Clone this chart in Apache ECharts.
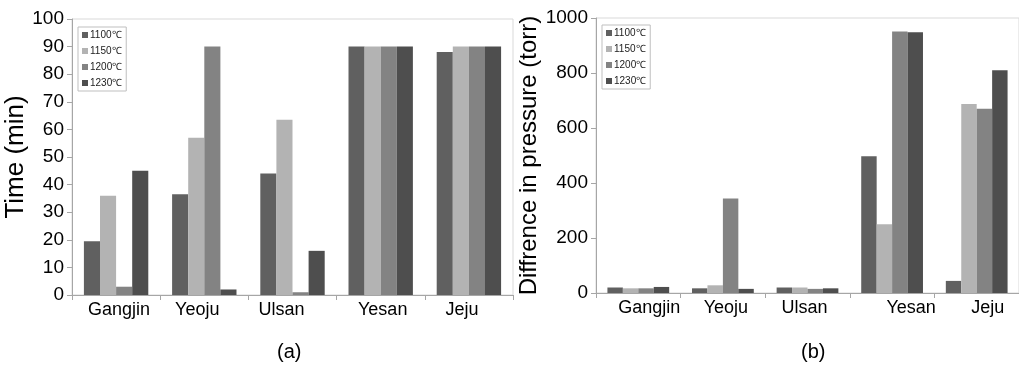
<!DOCTYPE html>
<html><head><meta charset="utf-8">
<script src="https://cdn.jsdelivr.net/npm/echarts@6/dist/echarts.min.js"></script>
<style>html,body{margin:0;padding:0;background:#fff}#c{width:1019px;height:365px}</style>
</head><body><div id="c"></div>
<script>
const categories = ['Gangjin', 'Yeoju', 'Ulsan', 'Yesan', 'Jeju'];
const seriesNames = ['1100℃', '1150℃', '1200℃', '1230℃'];
// (a) Time (min)
const timeData = [
  [19.5, 36.5, 44, 90, 88],   // 1100
  [36, 57, 63.5, 90, 90],     // 1150
  [3, 90, 1, 90, 90],         // 1200
  [45, 2, 16, 90, 90]         // 1230
];
// (b) Diffrence in pressure (torr)
const pressureData = [
  [20, 17, 20, 497, 44],
  [17, 28, 20, 250, 687],
  [17, 344, 15, 951, 670],
  [22, 15, 17, 948, 810]
];
const timeTicks = {min: 0, max: 100, interval: 10};
const pressureTicks = {min: 0, max: 1000, interval: 200};

// label placement tweaks (px shift of each category label, as in the source figure)
const labelShiftA = [3, -7, -11, 2, -7];
const labelShiftB = [11, 3, -3, 19, 11];

const colors = ['#606060', '#b3b3b3', '#838383', '#4e4e4e'];
const FONT = 'Liberation Sans, Arial, sans-serif';

function catData(shifts) {
  return categories.map((c, i) => {
    const d = shifts[i];
    const pad = d >= 0 ? [0, 0, 0, 2 * d] : [0, -2 * d, 0, 0];
    return {value: c, textStyle: {padding: pad}};
  });
}
function xAxisCfg(gi, shifts) {
  return {
    type: 'category', gridIndex: gi, data: catData(shifts),
    axisLine: {lineStyle: {color: '#a6a6a6', width: 1}},
    axisTick: {show: true, alignWithLabel: false, length: 5, lineStyle: {color: '#a6a6a6'}},
    axisLabel: {color: '#000', fontSize: 18, fontFamily: FONT, margin: 6, interval: 0}
  };
}
function yAxisCfg(gi, ticks, name, gap, nameSize) {
  return {
    type: 'value', gridIndex: gi, min: ticks.min, max: ticks.max, interval: ticks.interval,
    name: name, nameLocation: 'middle', nameGap: gap,
    nameTextStyle: {color: '#000', fontSize: nameSize, fontFamily: FONT},
    axisLine: {show: true, lineStyle: {color: '#a6a6a6', width: 1}},
    axisTick: {show: true, length: 5, lineStyle: {color: '#a6a6a6'}},
    splitLine: {show: false},
    axisLabel: {color: '#000', fontSize: 19, fontFamily: FONT, margin: 8, formatter: v => String(v)}
  };
}
const series = [];
seriesNames.forEach((n, i) => {
  series.push({name: n, type: 'bar', xAxisIndex: 0, yAxisIndex: 0, data: timeData[i],
    itemStyle: {color: colors[i]}, barGap: '0%', barCategoryGap: '27%', animation: false});
});
seriesNames.forEach((n, i) => {
  series.push({name: n, type: 'bar', xAxisIndex: 1, yAxisIndex: 1, data: pressureData[i],
    itemStyle: {color: colors[i]}, barGap: '0%', barCategoryGap: '27%', animation: false});
});
function legendCfg(left, top) {
  return {
    data: seriesNames, orient: 'vertical', left: left, top: top,
    itemWidth: 6, itemHeight: 6, itemGap: 6, icon: 'rect',
    padding: [3, 4, 3, 4], borderColor: '#bfbfbf', borderWidth: 1,
    textStyle: {fontSize: 10, fontFamily: FONT, color: '#222', padding: [0, 0, 0, -3]},
    selectedMode: false
  };
}
const chart = echarts.init(document.getElementById('c'), null, {renderer: 'canvas'});
chart.setOption({
  animation: false,
  backgroundColor: '#fff',
  grid: [
    {left: 72, top: 19, width: 441, height: 276, show: true, borderColor: '#d9d9d9', borderWidth: 1},
    {left: 596, top: 18, width: 429, height: 275, show: true, borderColor: '#d9d9d9', borderWidth: 1}
  ],
  xAxis: [xAxisCfg(0, labelShiftA), xAxisCfg(1, labelShiftB)],
  yAxis: [yAxisCfg(0, timeTicks, 'Time (min)', 37, 26), yAxisCfg(1, pressureTicks, 'Diffrence in pressure (torr)', 50, 24)],
  legend: [legendCfg(78, 27), legendCfg(602, 25)],
  series: series,
  graphic: [
    {type: 'text', left: 277, top: 342, style: {text: '(a)', fontSize: 20, fontFamily: FONT, fill: '#000'}},
    {type: 'text', left: 801, top: 342, style: {text: '(b)', fontSize: 20, fontFamily: FONT, fill: '#000'}}
  ]
});
</script></body></html>
